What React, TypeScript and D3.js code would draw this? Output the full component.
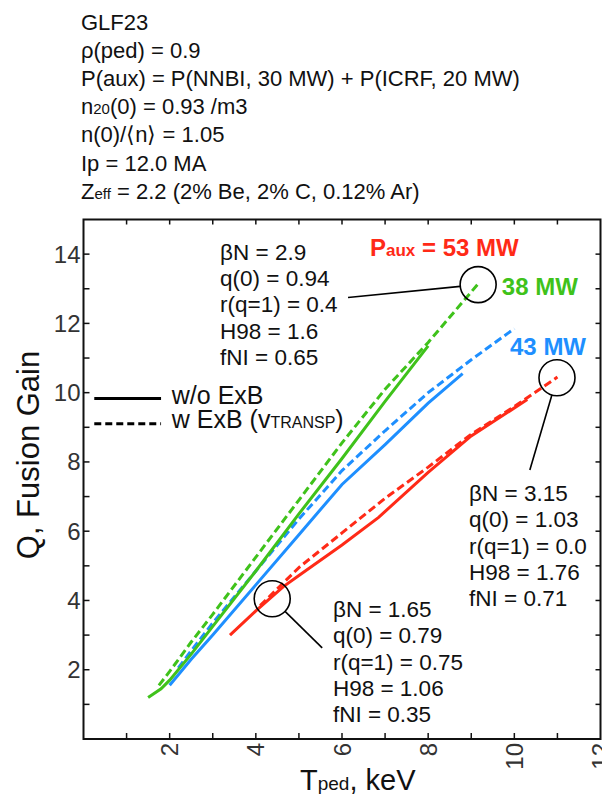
import React from 'react';
import * as d3 from 'd3';

const W = 602, H = 796;
const RED = '#ff2a17', GREEN = '#3fc21b', BLUE = '#1e8fff';
const FONT = '"Liberation Sans", Arial, Helvetica, sans-serif';

// T_ped (keV) / Q values
const t38Solid = [1.5, 1.8, 2.0, 2.5, 3, 4, 5, 6, 7, 8];
const q38Solid = [1.2, 1.45, 1.7, 2.45, 3.25, 4.85, 6.5, 8.1, 9.75, 11.35];
const t38Dash = [1.75, 2.0, 2.5, 3, 4, 5, 6, 7, 8, 9.2];
const q38Dash = [1.55, 1.95, 2.8, 3.6, 5.25, 6.9, 8.55, 10.1, 11.45, 13.2];

const t43Solid = [2.0, 2.5, 3, 4, 5, 6, 7, 8, 8.8];
const q43Solid = [1.55, 2.3, 3.0, 4.45, 5.9, 7.35, 8.5, 9.7, 10.55];
const t43Dash = [2.2, 2.5, 3, 4, 5, 6, 7, 8, 9, 10];
const q43Dash = [2.05, 2.55, 3.35, 4.85, 6.35, 7.75, 8.9, 10.0, 10.95, 11.85];

const t53Solid = [3.4, 4, 4.64, 5, 6, 6.85, 8, 9, 10.3];
const q53Solid = [3.0, 3.7, 4.4, 4.72, 5.6, 6.4, 7.7, 8.75, 9.8];
const t53Dash = [4.1, 5, 6, 7, 8, 9, 10, 11];
const q53Dash = [3.85, 4.95, 5.95, 6.95, 7.85, 8.8, 9.6, 10.45];

const xTicks = d3.range(1, 12);
const yTicks = d3.range(1, 15);
const xTickLabels = ['2', '4', '6', '8', '10', '12'];
const yTickLabels = ['2', '4', '6', '8', '10', '12', '14'];

const headerLines = [
  'GLF23',
  'ρ(ped) = 0.9',
  'P(aux) = P(NNBI, 30 MW) + P(ICRF, 20 MW)',
  'n20(0) = 0.93 /m3',
  'n(0)/⟨n⟩ = 1.05',
  'Ip = 12.0 MA',
  'Zeff = 2.2 (2% Be, 2% C, 0.12% Ar)',
];

const noteHigh = ['βN = 2.9', 'q(0) = 0.94', 'r(q=1) = 0.4', 'H98 = 1.6', 'fNI = 0.65'];
const noteRight = ['βN = 3.15', 'q(0) = 1.03', 'r(q=1) = 0.0', 'H98 = 1.76', 'fNI = 0.71'];
const noteLow = ['βN = 1.65', 'q(0) = 0.79', 'r(q=1) = 0.75', 'H98 = 1.06', 'fNI = 0.35'];

const zip = (a: number[], b: number[]) => a.map((v, i) => [v, b[i]] as [number, number]);

const series = [
  { pts: zip(t43Solid, q43Solid), color: BLUE, dash: false },
  { pts: zip(t43Dash, q43Dash), color: BLUE, dash: true },
  { pts: zip(t38Solid, q38Solid), color: GREEN, dash: false },
  { pts: zip(t38Dash, q38Dash), color: GREEN, dash: true },
  { pts: zip(t53Solid, q53Solid), color: RED, dash: false },
  { pts: zip(t53Dash, q53Dash), color: RED, dash: true },
];

// circle (data units), text origin (data units), leader start (data units)
const notes = [
  { lines: noteHigh, circle: [9.16, 13.12], text: [3.17, 13.84], lead: [6.14, 12.75] },
  { lines: noteRight, circle: [10.99, 10.43], text: [8.95, 6.88], lead: [10.36, 7.77] },
  { lines: noteLow, circle: [4.38, 4.05], text: [5.79, 3.53], lead: [5.54, 2.63] },
];

export default function App() {
  const x = d3.scaleLinear().domain([0, 12]).range([83.5, 600.5]);
  const y = d3.scaleLinear().domain([0, 15]).range([739, 219.5]);
  const line = d3.line<[number, number]>().x(d => x(d[0])).y(d => y(d[1]));
  const [x0, x1] = x.range();
  const [y0, y1] = y.range();
  const R = 18;

  const header = (s: string, i: number) => {
    const yy = 30 + i * 28.1;
    if (s.startsWith('n20')) {
      return (
        <text key={i} x={81} y={yy}>
          n<tspan fontSize={15}>20</tspan>(0) = 0.93 /m3
        </text>
      );
    }
    if (s.startsWith('Zeff')) {
      return (
        <text key={i} x={81} y={yy}>
          Z<tspan fontSize={15}>eff</tspan> = 2.2 (2% Be, 2% C, 0.12% Ar)
        </text>
      );
    }
    return <text key={i} x={81} y={yy}>{s}</text>;
  };

  return (
    <svg width={W} height={H} style={{ position: 'absolute', left: 0, top: 0, background: '#fff' }}
      fontFamily={FONT}>
      <g fontSize={22} fill="#111">{headerLines.map(header)}</g>

      {/* frame and ticks */}
      <rect x={x0} y={y1} width={x1 - x0} height={y0 - y1} fill="none" stroke="#111" strokeWidth={2} />
      <g stroke="#111" strokeWidth={1.5}>
        {xTicks.map(t => (
          <g key={'x' + t}>
            <line x1={x(t)} x2={x(t)} y1={y0} y2={y0 - 6} />
            <line x1={x(t)} x2={x(t)} y1={y1} y2={y1 + 5} />
          </g>
        ))}
        {yTicks.map(t => (
          <g key={'y' + t}>
            <line x1={x0} x2={x0 + 6} y1={y(t)} y2={y(t)} />
            <line x1={x1} x2={x1 - 5} y1={y(t)} y2={y(t)} />
          </g>
        ))}
      </g>
      <g fontSize={24} fill="#333">
        {yTickLabels.map(l => (
          <text key={l} x={x0 - 3} y={y(+l)} textAnchor="end" dominantBaseline="central">{l}</text>
        ))}
        {xTickLabels.map(l => (
          <text key={l} transform={`translate(${x(+l)},${y0 + 4}) rotate(-90)`} textAnchor="end"
            dominantBaseline="central">{l}</text>
        ))}
      </g>

      {/* axis titles */}
      <text transform={`translate(39,455) rotate(-90)`} textAnchor="middle" fontSize={31} fill="#111">
        Q, Fusion Gain
      </text>
      <text x={300} y={790} fontSize={29} fill="#111">
        T<tspan fontSize={19}>ped</tspan>, keV
      </text>

      {/* curves */}
      <g fill="none" strokeWidth={3}>
        {series.map((s, i) => (
          <path key={i} d={line(s.pts) ?? ''} stroke={s.color}
            strokeDasharray={s.dash ? '8 4' : undefined} />
        ))}
      </g>

      {/* legend */}
      <g stroke="#000" strokeWidth={3}>
        <line x1={x(0.25)} x2={x(1.8)} y1={y(9.83)} y2={y(9.83)} />
        <line x1={x(0.25)} x2={x(1.8)} y1={y(9.1)} y2={y(9.1)} strokeDasharray="7 4" />
      </g>
      <g fontSize={25} fill="#111">
        <text x={x(2.05)} y={y(9.83) + 5}>w/o ExB</text>
        <text x={x(2.05)} y={y(9.1) + 4}>
          w ExB (v<tspan fontSize={16}>TRANSP</tspan>)
        </text>
      </g>

      {/* power labels */}
      <g fontWeight="bold" fontSize={24}>
        <text x={x(6.65)} y={y(13.96)} fill={RED}>
          P<tspan fontSize={17}>aux</tspan> = 53 MW
        </text>
        <text x={x(9.71)} y={y(12.83)} fill={GREEN}>38 MW</text>
        <text x={x(9.9)} y={y(11.1)} fill={BLUE}>43 MW</text>
      </g>

      {/* annotations */}
      {notes.map((n, i) => {
        const cx = x(n.circle[0]), cy = y(n.circle[1]);
        const lx = x(n.lead[0]), ly = y(n.lead[1]);
        const a = Math.atan2(ly - cy, lx - cx);
        return (
          <g key={i}>
            <circle cx={cx} cy={cy} r={R} fill="none" stroke="#000" strokeWidth={1.6} />
            <line x1={cx + R * Math.cos(a)} y1={cy + R * Math.sin(a)} x2={lx} y2={ly}
              stroke="#000" strokeWidth={1.6} />
            <g fontSize={22.5} fill="#111">
              {n.lines.map((t, j) => (
                <text key={j} x={x(n.text[0])} y={y(n.text[1]) + j * 26.4}>{t}</text>
              ))}
            </g>
          </g>
        );
      })}
    </svg>
  );
}
